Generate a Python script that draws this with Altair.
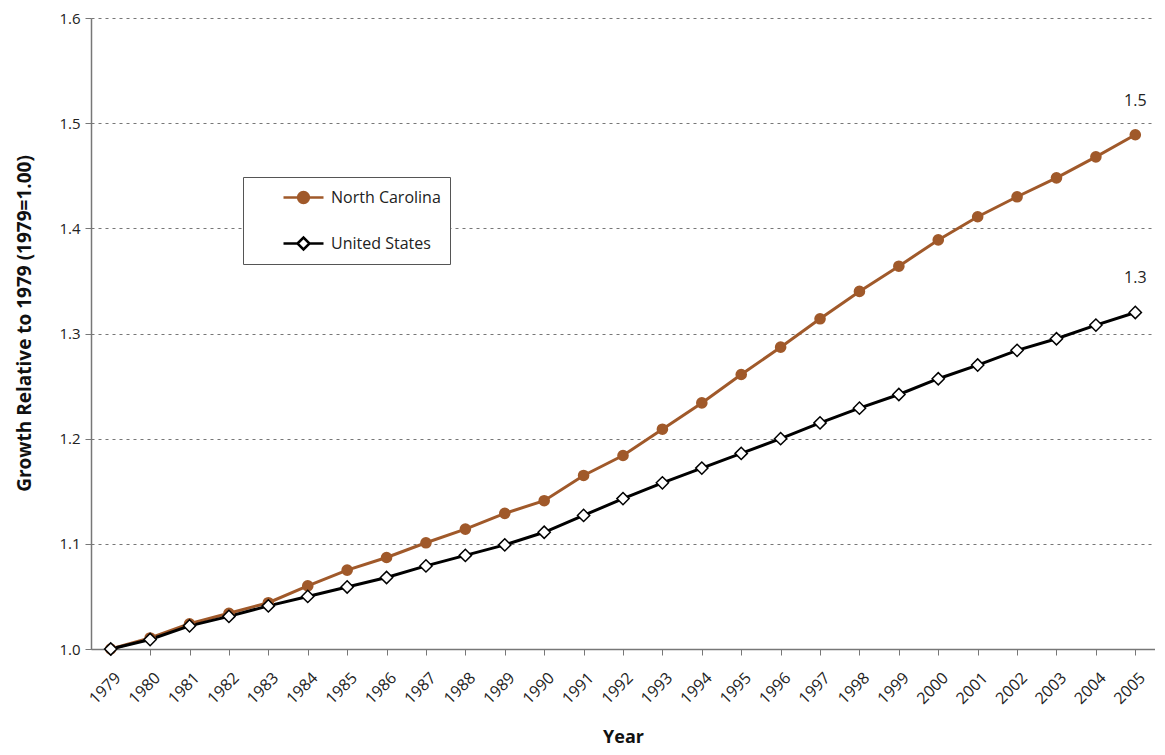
import altair as alt
import pandas as pd

years = [str(y) for y in range(1979, 2006)]
north_carolina = [1.000, 1.0105, 1.024, 1.034, 1.044, 1.060, 1.075, 1.087, 1.101, 1.114,
                  1.129, 1.141, 1.165, 1.184, 1.209, 1.234, 1.261, 1.287, 1.314, 1.340,
                  1.364, 1.389, 1.411, 1.430, 1.448, 1.468, 1.489]
united_states = [1.000, 1.009, 1.022, 1.031, 1.041, 1.050, 1.059, 1.068, 1.079, 1.089,
                 1.099, 1.111, 1.127, 1.143, 1.158, 1.172, 1.186, 1.200, 1.215, 1.229,
                 1.242, 1.257, 1.270, 1.284, 1.295, 1.308, 1.320]
series_names = ["North Carolina", "United States"]
y_ticks = [1.0, 1.1, 1.2, 1.3, 1.4, 1.5, 1.6]

BROWN = "#A0592A"
FONT = "Open Sans"

rows = []
for name, vals in zip(series_names, [north_carolina, united_states]):
    for yr, v in zip(years, vals):
        rows.append({"year": yr, "value": v, "series": name})
df = pd.DataFrame(rows)

# legend symbols: line with a filled circle / line with an open diamond
nc_path = ("M-2,0H2"
           "M-0.54,0A0.54,0.54,0,1,1,0.54,0A0.54,0.54,0,1,1,-0.54,0Z"
           "M-0.34,0A0.34,0.34,0,1,1,0.34,0A0.34,0.34,0,1,1,-0.34,0Z"
           "M-0.14,0A0.14,0.14,0,1,1,0.14,0A0.14,0.14,0,1,1,-0.14,0Z")
us_path = "M-2,0H-0.6M0.6,0H2M-0.6,0L0,-0.6L0.6,0L0,0.6Z"

x_enc = alt.X(
    "year:O",
    title="Year",
    scale=alt.Scale(paddingInner=0, paddingOuter=0),
    axis=alt.Axis(
        bandPosition=0, labelAngle=-45, labelAlign="right", labelBaseline="middle",
        labelOffset=7, labelPadding=20, tickSize=6, grid=False,
        labelFont=FONT, labelFontSize=16, labelColor="#222222",
        titlePadding=22, titleFontSize=18,
    ),
)
y_enc = alt.Y(
    "value:Q",
    title="Growth Relative to 1979 (1979=1.00)",
    scale=alt.Scale(domain=[1.0, 1.6], nice=False, zero=False),
    axis=alt.Axis(values=y_ticks, format=".1f", grid=True, gridDash=[3, 4],
                  gridColor="#777777", tickSize=6, labelPadding=5, titlePadding=24,
                  labelFont=FONT, labelFontSize=15, labelColor="#222222",
                  titleFontSize=19, titleY=305),
)

base = alt.Chart(df)

nc_line = base.transform_filter(alt.datum.series == "North Carolina").mark_line(
    strokeWidth=3, color=BROWN
).encode(x=x_enc, y=y_enc)

us_line = base.transform_filter(alt.datum.series == "United States").mark_line(
    strokeWidth=3, color="black"
).encode(x=x_enc, y=y_enc)

nc_points = base.transform_filter(alt.datum.series == "North Carolina").mark_point(
    shape="circle", filled=True, size=135, color=BROWN, opacity=1
).encode(x=x_enc, y=y_enc)

us_points = base.transform_filter(alt.datum.series == "United States").mark_point(
    shape="diamond", filled=True, size=150, fill="white", stroke="black",
    strokeWidth=1.5, opacity=1
).encode(x=x_enc, y=y_enc)

end_labels = base.transform_filter(alt.datum.year == "2005").mark_text(
    dy=-34, fontSize=16, font=FONT, color="#222222"
).encode(x=x_enc, y=y_enc, text=alt.Text("value:Q", format=".1f"))

legend = alt.Legend(
    orient="none", legendX=152, legendY=159,
    title="\u00a0", titleOrient="left", titlePadding=40, titleFontSize=10,
    padding=9, rowPadding=24,
    strokeColor="#555555", fillColor="white",
    symbolSize=400, symbolStrokeWidth=2.5, symbolOpacity=1,
    labelFont=FONT, labelFontSize=16, labelColor="#222222", labelOffset=16,
    labelLimit=300,
)

legend_layer = base.transform_filter(alt.datum.year == "1979").mark_point(
    opacity=0, strokeWidth=2.5
).encode(
    x=x_enc, y=y_enc,
    color=alt.Color("series:N", scale=alt.Scale(domain=series_names, range=[BROWN, "#000000"]),
                    legend=legend),
    shape=alt.Shape("series:N", scale=alt.Scale(domain=series_names, range=[nc_path, us_path]),
                    legend=legend),
)

chart = alt.layer(nc_line, us_line, nc_points, us_points, end_labels, legend_layer).properties(
    width=1064, height=631,
    padding={"left": 7, "top": 3, "right": 0, "bottom": 0},
).configure_view(stroke=None).configure_axis(
    labelFont=FONT, labelColor="#222222",
    titleFont=FONT, titleFontWeight="bold", titleColor="#111111",
    domainColor="#777777", tickColor="#777777", domainWidth=1.5,
)

chart.save("out.html", embed_options={"renderer": "svg", "actions": False})
